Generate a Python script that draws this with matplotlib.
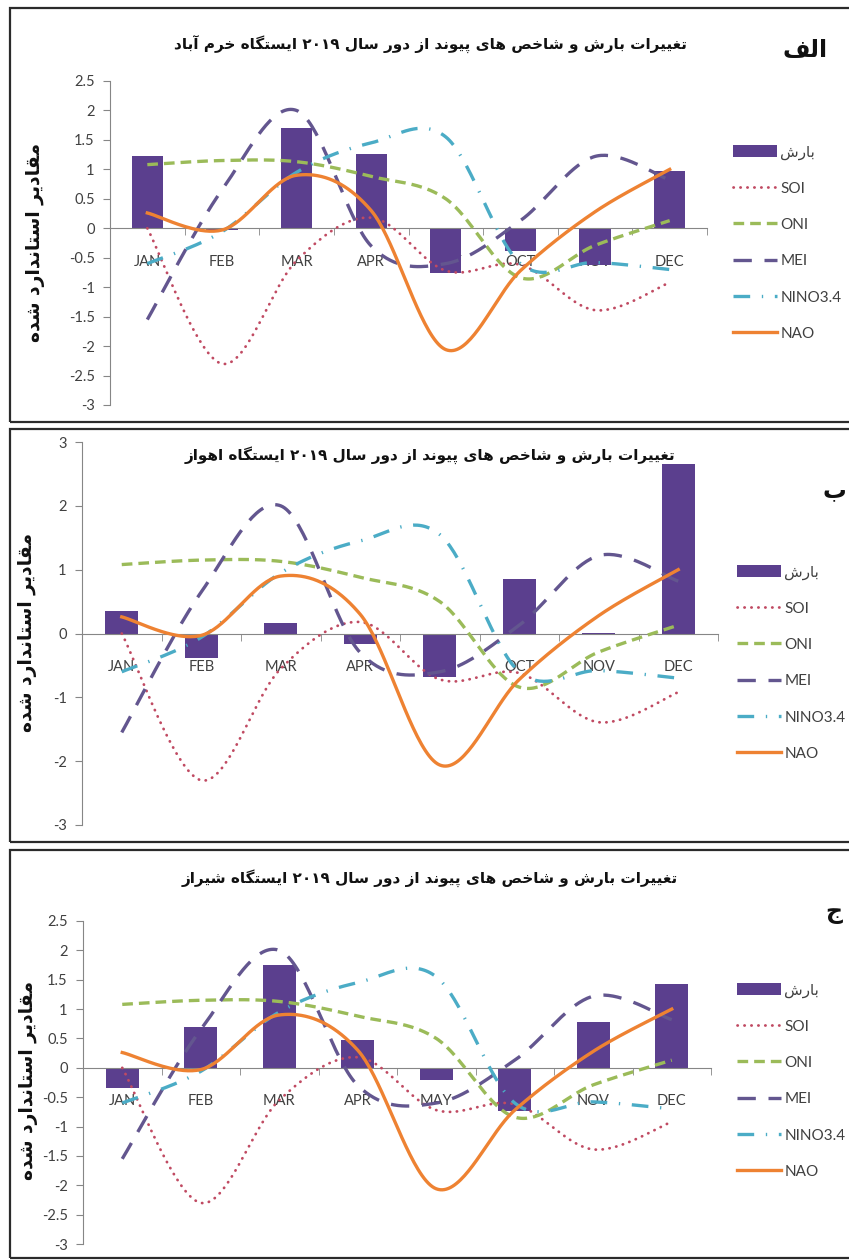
import re
import numpy as np
import matplotlib
matplotlib.use("Agg")
import matplotlib.pyplot as plt
from matplotlib.patches import Rectangle
from matplotlib.font_manager import FontProperties

plt.rcParams['axes.unicode_minus'] = False

# ---- data -------------------------------------------------------------
months = ['JAN', 'FEB', 'MAR', 'APR', 'MAY', 'OCT', 'NOV', 'DEC']

soi = [0.0, -2.3, -0.55, 0.18, -0.72, -0.62, -1.39, -0.92]
oni = [1.08, 1.15, 1.13, 0.88, 0.5, -0.84, -0.29, 0.13]
mei = [-1.55, 0.65, 2.0, -0.3, -0.6, 0.13, 1.22, 0.82]
nino34 = [-0.6, -0.06, 0.95, 1.45, 1.55, -0.6, -0.58, -0.7]
nao = [0.26, -0.03, 0.9, 0.3, -2.06, -0.72, 0.28, 1.0]

rain_khorramabad = [1.22, -0.03, 1.70, 1.26, -0.76, -0.38, -0.63, 0.98]
rain_ahvaz = [0.36, -0.38, 0.17, -0.17, -0.68, 0.86, 0.01, 2.66]
rain_shiraz = [-0.34, 0.70, 1.75, 0.48, -0.21, -0.74, 0.78, 1.43]

title_base = 'تغییرات بارش و شاخص های پیوند از دور سال ۲۰۱۹ ایستگاه '
stations = ['خرم آباد', 'اهواز', 'شیراز']
panel_tags = ['الف', 'ب', 'ج']
ylabel_txt = 'مقادیر استاندارد شده'
rain_label = 'بارش'

# ---- simple persian shaping (matplotlib has no bidi / joining) --------
FORMS = {
    'ا': ('\uFE8D', '\uFE8E'), 'آ': ('\uFE81', '\uFE82'),
    'د': ('\uFEA9', '\uFEAA'), 'ر': ('\uFEAD', '\uFEAE'),
    'ز': ('\uFEAF', '\uFEB0'), 'و': ('\uFEED', '\uFEEE'),
    'ب': ('\uFE8F', '\uFE90', '\uFE91', '\uFE92'),
    'ت': ('\uFE95', '\uFE96', '\uFE97', '\uFE98'),
    'ج': ('\uFE9D', '\uFE9E', '\uFE9F', '\uFEA0'),
    'خ': ('\uFEA5', '\uFEA6', '\uFEA7', '\uFEA8'),
    'س': ('\uFEB1', '\uFEB2', '\uFEB3', '\uFEB4'),
    'ش': ('\uFEB5', '\uFEB6', '\uFEB7', '\uFEB8'),
    'ص': ('\uFEB9', '\uFEBA', '\uFEBB', '\uFEBC'),
    'غ': ('\uFECD', '\uFECE', '\uFECF', '\uFED0'),
    'ف': ('\uFED1', '\uFED2', '\uFED3', '\uFED4'),
    'ق': ('\uFED5', '\uFED6', '\uFED7', '\uFED8'),
    'ل': ('\uFEDD', '\uFEDE', '\uFEDF', '\uFEE0'),
    'م': ('\uFEE1', '\uFEE2', '\uFEE3', '\uFEE4'),
    'ن': ('\uFEE5', '\uFEE6', '\uFEE7', '\uFEE8'),
    'ه': ('\uFEE9', '\uFEEA', '\uFEEB', '\uFEEC'),
    'ی': ('\uFBFC', '\uFBFD', '\uFBFE', '\uFBFF'),
    'پ': ('\uFB56', '\uFB57', '\uFB58', '\uFB59'),
    'گ': ('\uFB92', '\uFB93', '\uFB94', '\uFB95'),
}


def fa(text):
    out = []
    for i, c in enumerate(text):
        f = FORMS.get(c)
        if f is None:
            out.append(c)
            continue
        prev = text[i - 1] if i > 0 else ''
        nxt = text[i + 1] if i + 1 < len(text) else ''
        jp = prev in FORMS and len(FORMS[prev]) == 4
        jn = len(f) == 4 and nxt in FORMS
        out.append(f[3] if jp and jn else f[1] if jp else f[2] if jn else f[0])
    vis = ''.join(out)[::-1]
    return re.sub(r'[0-9\u06F0-\u06F9]+', lambda m: m.group(0)[::-1], vis)


def smooth(x, y, n=40):
    # excel style smoothed line (catmull-rom as cubic bezier)
    p = np.column_stack([x, y]).astype(float)
    p = np.vstack([p[0], p, p[-1]])
    t = np.linspace(0, 1, n)[:, None]
    segs = []
    for i in range(1, len(p) - 2):
        p0, p1, p2, p3 = p[i - 1], p[i], p[i + 1], p[i + 2]
        c1 = p1 + (p2 - p0) / 6
        c2 = p2 - (p3 - p1) / 6
        s = (1 - t) ** 3 * p1 + 3 * (1 - t) ** 2 * t * c1 + 3 * (1 - t) * t ** 2 * c2 + t ** 3 * p2
        segs.append(s if i == 1 else s[1:])
    s = np.vstack(segs)
    return s[:, 0], s[:, 1]


W, H = 849, 1260
fig = plt.figure(figsize=(W / 100, H / 100), dpi=100)


def fx(px):
    return px / W


def fy(py):
    return 1 - py / H


bar_color = '#5B3F8E'
grey = '#868686'
txt = '#404040'
fa_font = ['DejaVu Sans']
lat_font = ['Lato', 'DejaVu Sans']

series = [
    ('SOI', soi, dict(color='#C04A62', lw=2.0, ls=(0, (0.1, 2.4)), dash_capstyle='round')),
    ('ONI', oni, dict(color='#9BBB59', lw=2.4, ls=(0, (3.2, 1.8)))),
    ('MEI', mei, dict(color='#63568F', lw=2.4, ls=(0, (5.5, 3.8)))),
    ('NINO3.4', nino34, dict(color='#4BACC6', lw=2.4, ls=(0, (5, 3.5, 0.4, 3.5)))),
    ('NAO', nao, dict(color='#EE8232', lw=2.4, ls='-')),
]

# pixel layout of each panel: axes box, ylim, ticks, border, title y, tag, legend
panels = [
    dict(rain=rain_khorramabad, ax=(110, 81, 707, 405), ylim=(-3, 2.5), step=0.5,
         box=(10, 8, 422), title_y=45, tag=(805, 50), ylab=(36, 243), leg=(733, 145)),
    dict(rain=rain_ahvaz, ax=(82, 442, 718, 825), ylim=(-3, 3), step=1,
         box=(10, 429, 842), title_y=455, tag=(834, 490), ylab=(28, 633), leg=(737, 565)),
    dict(rain=rain_shiraz, ax=(83, 921, 711, 1244), ylim=(-3, 2.5), step=0.5,
         box=(10, 850, 1258), title_y=878, tag=(834, 912), ylab=(29, 1081), leg=(737, 983)),
]

x = np.arange(len(months))

for k, pn in enumerate(panels):
    l, t, r, b = pn['ax']
    ax = fig.add_axes([fx(l), fy(b), fx(r) - fx(l), fy(t) - fy(b)])
    ax.patch.set_alpha(0)

    bars = ax.bar(x, pn['rain'], width=0.42, color=bar_color, zorder=2)
    handles = [bars]
    labels = [fa(rain_label)]
    for name, vals, st in series:
        sx, sy = smooth(x, vals)
        style = dict(st)
        lw = style.pop('lw')
        ls = style.pop('ls')
        ln, = ax.plot(sx, sy, lw=lw, linestyle=ls, zorder=3, **style)
        handles.append(ln)
        labels.append(name)

    lo, hi = pn['ylim']
    ax.set_ylim(lo, hi)
    ax.set_xlim(-0.5, len(months) - 0.5)
    ticks = np.arange(lo, hi + 1e-9, pn['step'])
    ax.set_yticks(ticks)
    ax.set_yticklabels(['{:g}'.format(v) for v in ticks], fontfamily=lat_font,
                       fontsize=10.5, color=txt)

    ax.spines['top'].set_visible(False)
    ax.spines['right'].set_visible(False)
    ax.spines['left'].set_color(grey)
    ax.spines['bottom'].set_color(grey)
    ax.spines['bottom'].set_position(('data', 0))
    ax.tick_params(axis='y', direction='out', length=5, color=grey, pad=6)

    ax.set_xticks(x)
    ax.set_xticklabels(months, fontfamily=lat_font, fontsize=10.5, color=txt)
    ax.set_xticks(np.arange(-0.5, len(months)), minor=True)
    ax.tick_params(axis='x', which='major', length=0, pad=19)
    ax.tick_params(axis='x', which='minor', direction='out', length=5, color=grey)

    leg = ax.legend(handles, labels, loc='upper left',
                    bbox_to_anchor=(fx(pn['leg'][0]), fy(pn['leg'][1])),
                    bbox_transform=fig.transFigure, frameon=False,
                    prop=FontProperties(family=lat_font, size=11),
                    handlelength=2.9, handleheight=0.85, handletextpad=0.2,
                    labelspacing=1.43, borderpad=0, borderaxespad=0)
    for tx in leg.get_texts():
        tx.set_color(txt)

    # panel border
    bx, btop, bbot = pn['box']
    fig.add_artist(Rectangle((fx(bx), fy(bbot)), fx(W + 10) - fx(bx), fy(btop) - fy(bbot),
                             transform=fig.transFigure, fill=False,
                             edgecolor='#2b2b2b', lw=1.6))

    fig.text(fx(430), fy(pn['title_y']), fa(title_base + stations[k]),
             ha='center', va='center', fontsize=11, fontweight='bold',
             family=fa_font, color='#111111')
    fig.text(fx(pn['tag'][0]), fy(pn['tag'][1]), fa(panel_tags[k]),
             ha='center', va='center', fontsize=17, fontweight='bold',
             family=fa_font, color='#111111')
    fig.text(fx(pn['ylab'][0]), fy(pn['ylab'][1]), fa(ylabel_txt), rotation=90,
             ha='center', va='center', fontsize=13.5, fontweight='bold',
             family=fa_font, color='#111111')

fig.savefig('out.png', dpi=100)
